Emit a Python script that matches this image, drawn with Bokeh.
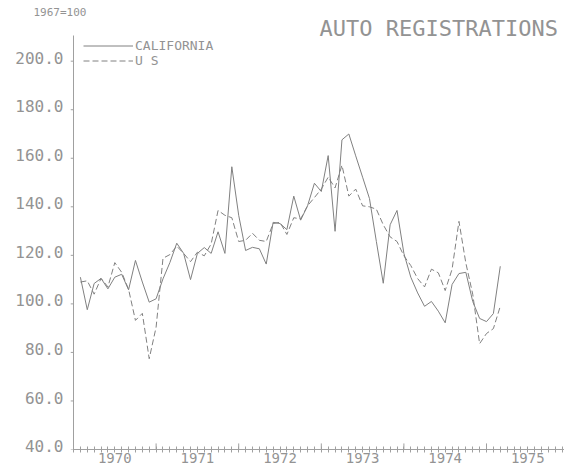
from bokeh.plotting import figure
from bokeh.models import (Range1d, FixedTicker, LinearAxis, PrintfTickFormatter,
                          CustomJSTickFormatter)
from bokeh.core.properties import value
from bokeh.embed import file_html
from bokeh.resources import INLINE

# ---- data (monthly index, 1967=100), Jan 1970 .. Feb 1975 ----
start_year = 1970
n_months = 62
california = [111.0, 97.6, 108.4, 110.5, 106.2, 111.0, 112.2, 105.8, 117.9, 109.0,
              100.7, 102.1, 110.3, 117.0, 125.0, 120.8, 110.0, 120.8, 123.2, 120.8,
              129.7, 120.8, 156.5, 136.5, 122.0, 123.3, 122.7, 116.4, 133.6, 133.1,
              130.6, 144.4, 134.5, 140.4, 149.7, 146.3, 161.1, 129.9, 167.6, 170.0,
              161.0, 152.2, 143.4, 125.7, 108.5, 132.6, 138.5, 120.8, 111.0, 104.5,
              99.0, 101.0, 97.0, 92.2, 108.0, 112.5, 113.0, 101.0, 94.0, 92.7,
              96.0, 115.5]
us = [109.0, 109.5, 104.0, 110.5, 107.0, 117.0, 113.0, 106.0, 93.2, 96.1,
      77.4, 90.4, 118.8, 120.3, 123.8, 120.8, 117.4, 121.3, 119.8, 124.7,
      138.5, 136.5, 135.5, 125.7, 126.2, 129.1, 126.2, 125.7, 133.1, 133.6,
      128.6, 135.5, 135.0, 140.4, 143.8, 147.3, 152.2, 147.8, 157.1, 144.4,
      147.3, 140.4, 140.0, 139.0, 132.6, 127.6, 125.7, 119.8, 115.8, 110.4,
      107.0, 114.3, 112.8, 105.5, 114.3, 134.0, 116.8, 104.0, 83.6, 87.8,
      89.8, 99.0]
y_ticks = [40, 60, 80, 100, 120, 140, 160, 180, 200]
year_labels = [1970, 1971, 1972, 1973, 1974, 1975]
title_text = "AUTO REGISTRATIONS"
note_text = "1967=100"

x = [start_year + (k + 1) / 12 for k in range(n_months)]

TXT = "#939393"
LINE = "#808080"
AX = "#a0a0a0"
FONT = "DejaVu Sans Mono"

W = 564
TOP = 18            # canvas y of the frame top
BOTTOM = 449        # canvas y of value 40 (frame bottom)
LEFT = 70           # canvas x of the frame left
AXIS_X = 73         # canvas x of the y axis line
PX_PER_YEAR = 82.6
PX_PER_UNIT = 2.427
X0 = 1970 - (AXIS_X - LEFT) / PX_PER_YEAR
X1 = 1970 + (W - AXIS_X) / PX_PER_YEAR
Y0 = 40
Y1 = 40 + (BOTTOM - TOP) / PX_PER_UNIT
Y_AXIS_TOP = 40 + (BOTTOM - 35) / PX_PER_UNIT

p = figure(frame_width=W - LEFT, frame_height=BOTTOM - TOP,
           min_border_left=LEFT, min_border_right=0, min_border_top=TOP, min_border_bottom=17,
           x_range=Range1d(X0, X1), y_range=Range1d(Y0, Y1),
           y_axis_location=None,
           output_backend="svg", toolbar_location=None)
p.grid.visible = False
p.outline_line_color = None

# note in the title slot, top left
p.title.text = note_text
p.title.align = "left"
p.title.offset = 33 - LEFT
p.title.standoff = 0
p.title.text_font = FONT
p.title.text_font_size = "11px"
p.title.text_font_style = "normal"
p.title.text_color = TXT

# chart title, top right
p.text(x=[1970 + (557.5 - AXIS_X) / PX_PER_YEAR], y=[40 + (BOTTOM - 27.5) / PX_PER_UNIT],
       text=[title_text], text_align="right", text_baseline="middle",
       text_font=value(FONT), text_font_size="22px", text_color=TXT)

p.line(x, california, line_color=LINE, line_width=1, legend_label="CALIFORNIA")
p.line(x, us, line_color=LINE, line_width=1, line_dash="6 3", legend_label="U S")

# y axis line and ticks
p.segment(x0=[1970], y0=[Y0], x1=[1970], y1=[Y_AXIS_TOP], line_color=AX, line_width=1)
p.segment(x0=[X0] * len(y_ticks), y0=y_ticks, x1=[1970] * len(y_ticks), y1=y_ticks,
          line_color=AX, line_width=1)

# year boundary ticks (taller, inner part)
years = [1971, 1972, 1973, 1974, 1975]
p.segment(x0=years, y0=[40] * len(years), x1=years, y1=[42.5] * len(years),
          line_color=AX, line_width=1)

# x axis: month minor ticks, year labels at mid-year
xa = p.xaxis[0]
xa.bounds = (1970, 1976)
xa.ticker = FixedTicker(ticks=[yr + 0.5 for yr in year_labels],
                        minor_ticks=[1970 + k / 12 for k in range(72)])
xa.formatter = CustomJSTickFormatter(code="return Math.floor(tick).toString()")
xa.axis_line_color = AX
xa.major_tick_line_color = None
xa.major_tick_in = 0
xa.major_tick_out = 0
xa.minor_tick_line_color = AX
xa.minor_tick_in = 3
xa.minor_tick_out = 3
xa.major_label_standoff = 0
xa.major_label_text_font = FONT
xa.major_label_text_font_size = "14px"
xa.major_label_text_color = TXT

# y labels sit just above their tick (label axis on a slightly shifted range)
shift = 1.4
p.extra_y_ranges = {"lab": Range1d(Y0 - shift, Y1 - shift)}
lab = LinearAxis(y_range_name="lab", ticker=FixedTicker(ticks=y_ticks),
                 formatter=PrintfTickFormatter(format="%.1f"),
                 axis_line_color=None, major_tick_line_color=None,
                 minor_tick_line_color=None, major_tick_in=0, major_tick_out=0,
                 major_label_standoff=7, major_label_text_font=FONT,
                 major_label_text_font_size="16px", major_label_text_color=TXT)
p.add_layout(lab, "left")

# legend
lg = p.legend[0]
lg.location = (13, 381)
lg.border_line_color = None
lg.background_fill_alpha = 0
lg.padding = 0
lg.margin = 0
lg.spacing = -4
lg.glyph_width = 50
lg.glyph_height = 13
lg.label_height = 13
lg.label_standoff = 2
lg.label_text_font = FONT
lg.label_text_font_size = "13px"
lg.label_text_color = TXT

open("out.html", "w").write(file_html(p, INLINE))
